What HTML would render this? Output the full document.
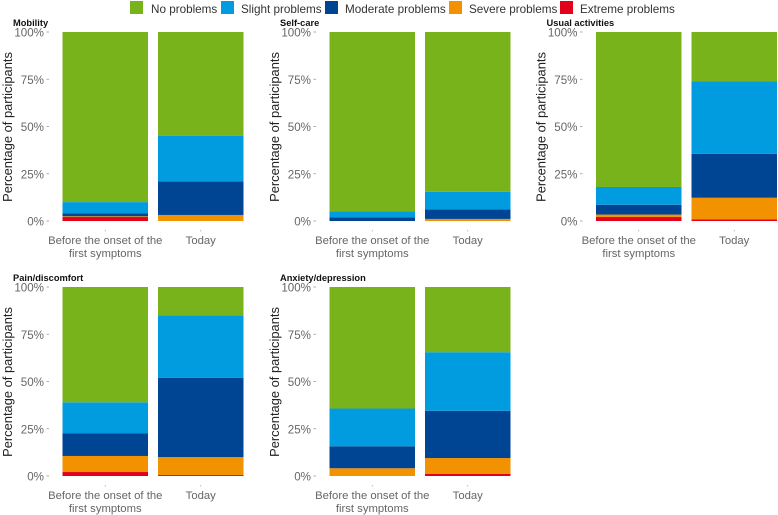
<!DOCTYPE html>
<html>
<head>
<meta charset="utf-8">
<style>
html,body{margin:0;padding:0;background:#fff;}
svg{display:block;font-family:"Liberation Sans",sans-serif;}
</style>
</head>
<body>
<svg id="chart" width="778" height="515" viewBox="0 0 778 515" xmlns="http://www.w3.org/2000/svg"></svg>
<script>
// Each array gives the share of participants in percent: [Before, Today]
const timepoints = ["Before the onset of the|first symptoms", "Today"];
const severityLevels = ["No problems", "Slight problems", "Moderate problems", "Severe problems", "Extreme problems"];
const tickValues = [0, 25, 50, 75, 100];
const tickLabels = ["0%", "25%", "50%", "75%", "100%"];
const panelTitles = ["Mobility", "Self-care", "Usual activities", "Pain/discomfort", "Anxiety/depression"];

const mobilityExtreme = [2.1, 0];
const mobilitySevere = [0.4, 3.2];
const mobilityModerate = [1.5, 17.8];
const mobilitySlight = [6, 24];
const mobilityNone = [90, 55];

const selfcareExtreme = [0, 0];
const selfcareSevere = [0, 1.1];
const selfcareModerate = [2, 5.1];
const selfcareSlight = [3, 9.3];
const selfcareNone = [95, 84.5];

const usualExtreme = [2.1, 0.9];
const usualSevere = [1.3, 11.4];
const usualModerate = [5.2, 23.2];
const usualSlight = [9.4, 38.5];
const usualNone = [82, 26];

const painExtreme = [2.1, 0.5];
const painSevere = [8.5, 9.5];
const painModerate = [11.9, 42];
const painSlight = [16.5, 33];
const painNone = [61, 15];

const anxietyExtreme = [0, 1.2];
const anxietySevere = [4.1, 8.3];
const anxietyModerate = [11.6, 25];
const anxietySlight = [20, 31];
const anxietyNone = [64.3, 34.5];

const panelValues = [
  [mobilityNone, mobilitySlight, mobilityModerate, mobilitySevere, mobilityExtreme],
  [selfcareNone, selfcareSlight, selfcareModerate, selfcareSevere, selfcareExtreme],
  [usualNone, usualSlight, usualModerate, usualSevere, usualExtreme],
  [painNone, painSlight, painModerate, painSevere, painExtreme],
  [anxietyNone, anxietySlight, anxietyModerate, anxietySevere, anxietyExtreme]
];

const levelColors = ["#78b31b", "#009cdf", "#004494", "#f39200", "#e2001a"];
const NS = "http://www.w3.org/2000/svg";
const svg = document.getElementById("chart");

function make(tag, attrs, parent, text) {
  const el = document.createElementNS(NS, tag);
  for (const k in attrs) el.setAttribute(k, attrs[k]);
  if (text !== undefined) el.textContent = text;
  parent.appendChild(el);
  return el;
}
function slug(s) {
  return s.toLowerCase().replace(/[^a-z0-9]+/g, "-").replace(/^-|-$/g, "");
}

// Legend
const legend = make("g", {}, svg);


const legendSwatchX = [130, 221, 325, 449, 560];
const legendTextX = [151, 241, 345, 469, 580];
severityLevels.forEach(function (level, i) {
  const swatch = make("rect", { x: legendSwatchX[i], y: 1, width: 13, height: 13, fill: levelColors[i] }, legend);
  
  
  const label = make("text", { x: legendTextX[i], y: 13, "font-size": 11.7, fill: "#333" }, legend, level);
  
  
});

// Panels
const panelLeft = [62.5, 329.5, 596, 62.5, 329.5];
const panelBottom = [221, 221, 221, 476, 476];
const plotHeight = 189;
const barWidth = 85.5;
const barGap = 10;

function yScale(bottom, v) { return bottom - v / 100 * plotHeight; }
function xScale(left, idx) { return left + idx * (barWidth + barGap); }

panelTitles.forEach(function (title, p) {
  const left = panelLeft[p], bottom = panelBottom[p];
  const group = make("g", {}, svg);
  
  

  const t = make("text", { x: left - 49.5, y: bottom - 195, "font-size": 9.3, "font-weight": "bold", fill: "#111" }, group, title);
  
  

  const yTitle = make("text", {
    transform: "translate(" + (left - 50.5) + " " + (bottom - 94) + ") rotate(-90)",
    "text-anchor": "middle", "font-size": 12.9, fill: "#222"
  }, group, "Percentage of participants");
  
  

  tickValues.forEach(function (v, i) {
    const y = yScale(bottom, v);
    const lab = make("text", { x: left - 18.5, y: y + 4.5, "text-anchor": "end", "font-size": 11.6, fill: "#666" }, group, tickLabels[i]);
    
    
    const tick = make("line", { x1: left - 16, x2: left - 13.5, y1: y, y2: y, stroke: "#999", "stroke-width": 0.8 }, group);
    
    
  });

  timepoints.forEach(function (tp, b) {
    const x = xScale(left, b);
    let cumulative = 0;
    // stack from the bottom: extreme first, "No problems" last
    for (let s = severityLevels.length - 1; s >= 0; s--) {
      const v = panelValues[p][s][b];
      if (v > 0) {
        const yTop = yScale(bottom, cumulative + v);
        const yBot = yScale(bottom, cumulative);
        const bar = make("rect", { x: x, y: yTop, width: barWidth, height: yBot - yTop, fill: levelColors[s] }, group);
        
        
      }
      cumulative += v;
    }
    const cx = x + barWidth / 2;
    const tick = make("line", { x1: cx, x2: cx, y1: bottom + 9, y2: bottom + 10.5, stroke: "#aaa", "stroke-width": 0.8 }, group);
    
    
    tp.split("|").forEach(function (line, l) {
      const lab = make("text", { x: cx, y: bottom + 23 + l * 13, "text-anchor": "middle", "font-size": 11.3, fill: "#666" }, group, line);
      
      
    });
  });
});
</script>
</body>
</html>
